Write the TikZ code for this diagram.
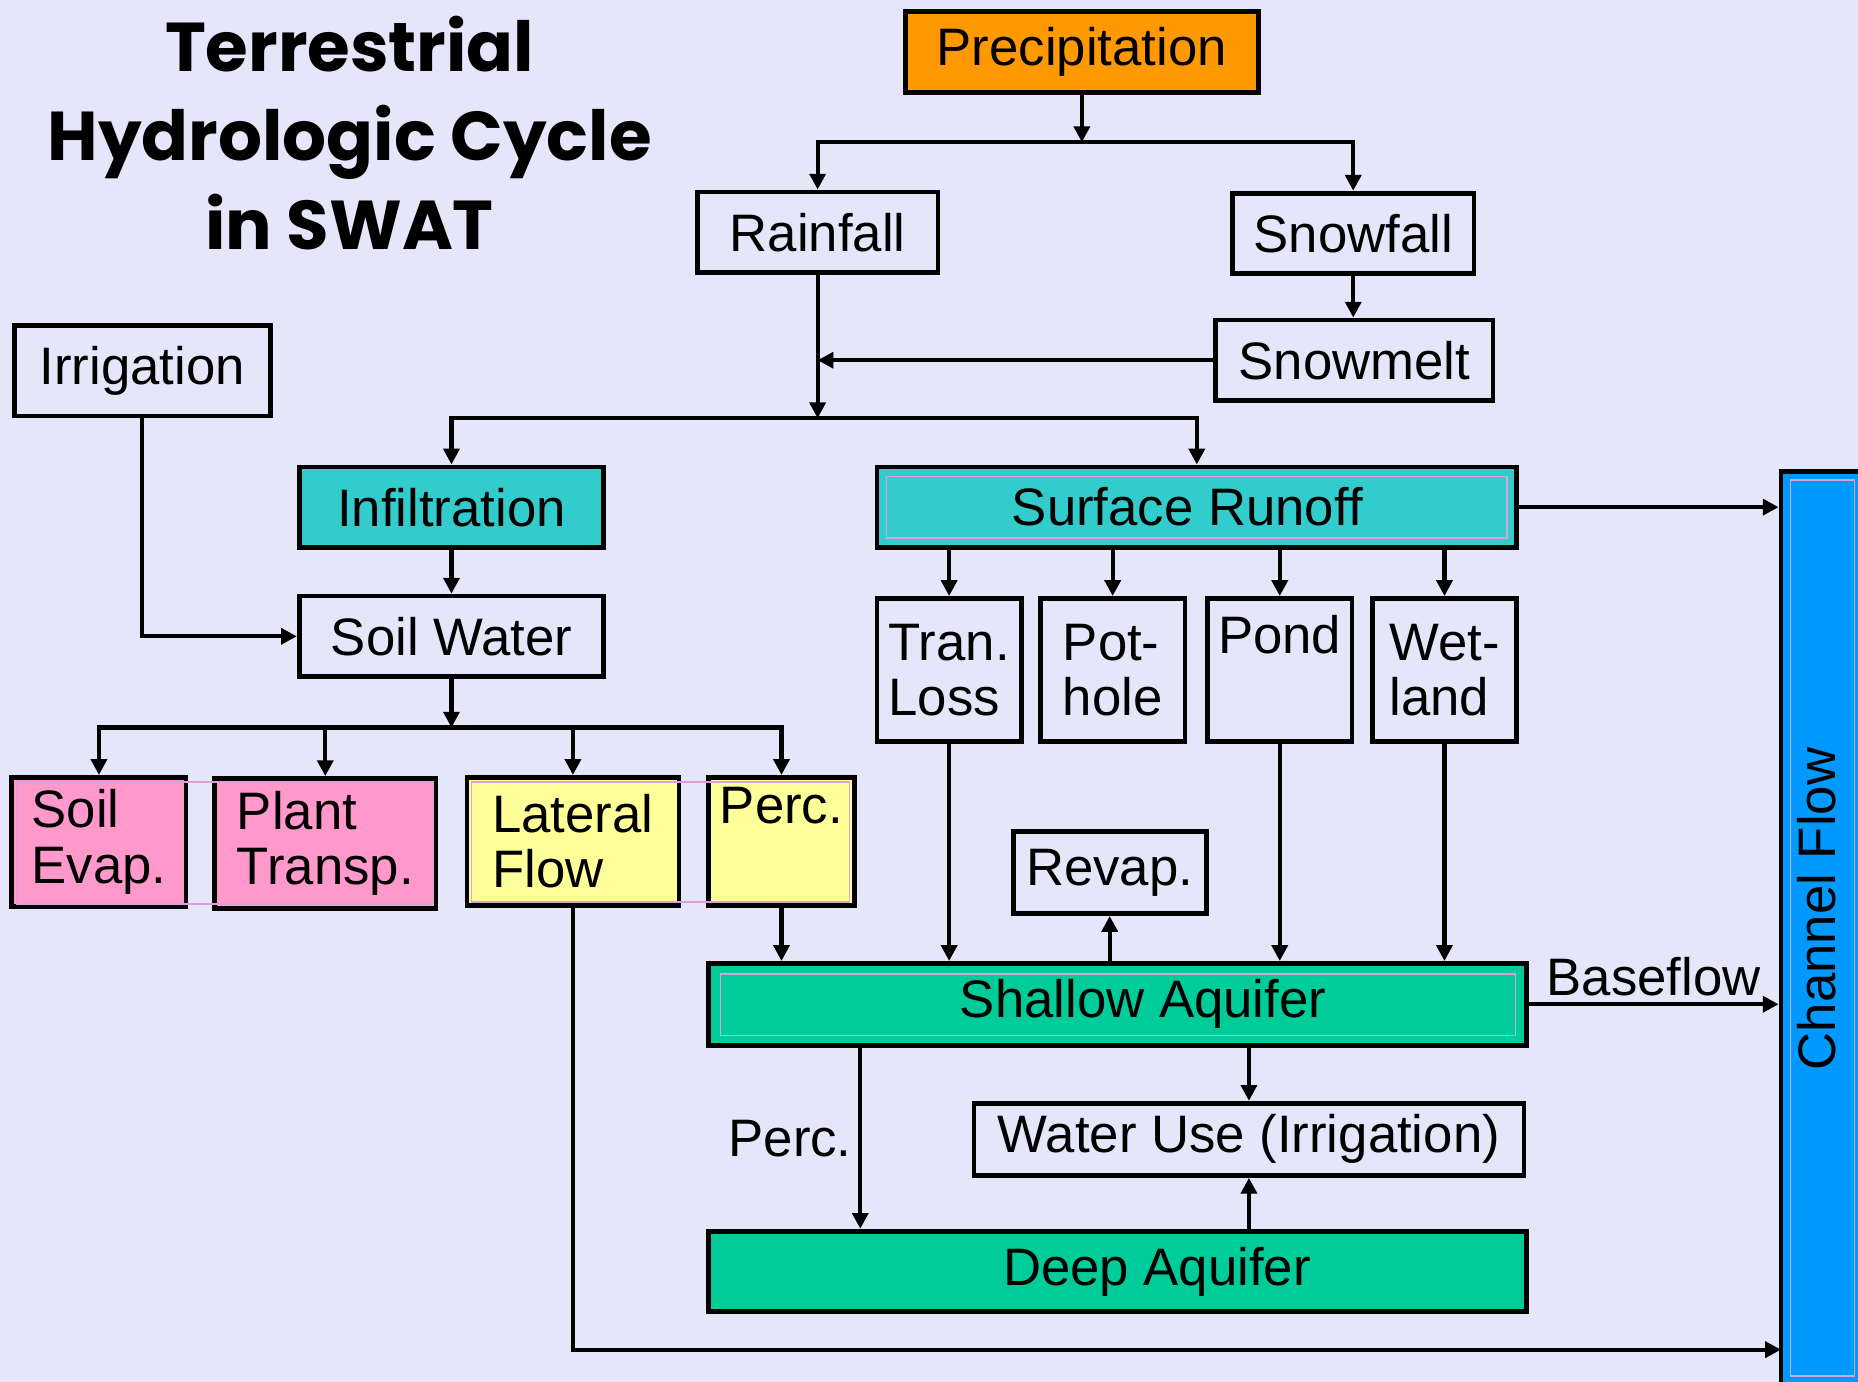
\documentclass[tikz,border=0pt]{standalone}
\usepackage{fontspec}
\setmainfont{Liberation Sans}
\newfontfamily\titlefont{Poppins}
\usetikzlibrary{arrows.meta,positioning}

\definecolor{bgcol}{RGB}{230,230,250}
\definecolor{precipcol}{RGB}{255,153,0}
\definecolor{tealcol}{RGB}{51,204,204}
\definecolor{pinkcol}{RGB}{255,153,204}
\definecolor{yellowcol}{RGB}{255,255,153}
\definecolor{aquacol}{RGB}{0,204,153}
\definecolor{chancol}{RGB}{0,153,255}
\definecolor{rimcol}{RGB}{221,160,221}

\tikzset{
  lbl/.style={font=\fontsize{26.7pt}{28pt}\selectfont},
  box/.style={draw=black, line width=2.4pt, fill=bgcol, inner sep=0pt, lbl},
  sz/.style 2 args={minimum width=#1*0.6pt, minimum height=#2*0.6pt},
  flow/.style={line width=2.1pt, -{Triangle[length=8pt,width=8pt]}},
  rim/.style={draw=rimcol, line width=0.8pt},
}

\begin{document}
\begin{tikzpicture}[x=0.6pt,y=-0.6pt]
\useasboundingbox (0,0) rectangle (1568,1166);
\fill[bgcol] (0,0) rectangle (1568,1166);

% title
\node[font=\titlefont\bfseries\fontsize{35pt}{45pt}\selectfont, align=center, inner sep=0pt] (title) at (295,112) {Terrestrial\\Hydrologic Cycle\\in SWAT};

% top part
\node[box, fill=precipcol, sz={298}{68}] (precip) at (913,44) {Precipitation};
\node[box, sz={203}{68}] (rain) at (690,196) {Rainfall};
\node[box, sz={204}{68}] (snowfall) at (1142,197) {Snowfall};
\node[box, sz={234}{68}] (snowmelt) at (1143,304) {Snowmelt};
\node[box, sz={216}{76}] (irrig) at (120,313) {Irrigation};

% soil and runoff
\node[box, fill=tealcol, sz={257}{68}] (infil) at (381,428) {Infiltration};
\node[box, fill=tealcol, sz={540}{68}, label={[lbl,xshift=-4.8pt]center:Surface Runoff}] (runoff) at (1010,428) {};
\node[box, sz={257}{68}] (soilwater) at (381,537) {Soil Water};
\node[box, sz={122}{121}, align=left] (tranloss) at (801,565.5) {Tran.\\Loss};
\node[box, sz={122}{121}, align=left] (pothole) at (939,565.5) {Pot-\\hole};
\node[box, sz={122}{121}, align=left] (pond) at (1080,565.5) {Pond\\\strut};
\node[box, sz={122}{121}, align=left] (wetland) at (1219,565.5) {Wet-\\land};
\node[box, fill=pinkcol, sz={147}{109}, align=left] (soilevap) at (83.5,710.5) {Soil\\Evap.};
\node[box, fill=pinkcol, sz={187}{110}, align=left] (plant) at (274.5,712) {Plant\\Transp.};
\node[box, fill=yellowcol, sz={179}{108}, align=left] (lateral) at (483.5,710) {Lateral\\Flow};
\node[box, fill=yellowcol, sz={123}{108}, align=left] (perc) at (659.5,710) {Perc.\\\strut};
\draw[rim] (14,660) rectangle (365,763);
\draw[rim] (398,660) rectangle (717,761);
\draw[rim] (748,402) rectangle (1272,454);

% groundwater
\node[box, sz={163}{69}] (revap) at (936.5,736.5) {Revap.};
\node[box, fill=aquacol, sz={690}{69}, label={[lbl,xshift=13pt]center:Shallow Aquifer}] (shallow) at (943,847.5) {};
\node[box, sz={464}{61}] (wateruse) at (1054,961.5) {Water Use (Irrigation)};
\node[box, fill=aquacol, sz={690}{68}, label={[lbl,xshift=20pt]center:Deep Aquifer}] (deep) at (943,1073) {};
\draw[rim] (608,822) rectangle (1279,874);

% channel
\node[box, fill=chancol, sz={72}{772}] (channel) at (1539,784) {};
\draw[rim] (1511,405) rectangle (1565,1161);
\node[lbl, rotate=90] (chantext) at (1533,767) {Channel Flow};

% junctions
\coordinate (split1) at (913,120);
\coordinate (split2) at (rain.south |- 0,353);
\coordinate (split3) at (soilwater.south |- 0,614);
\coordinate (lfend) at (1503,1139);
\coordinate (percx) at (726,0);

% connectors
\draw[flow] (precip) -- (split1);
\draw[flow] (split1) -| (rain);
\draw[flow] (split1) -| (snowfall);
\draw[flow] (snowfall.south) -- (snowfall.south |- snowmelt.north);
\draw[flow] (snowmelt) -- (snowmelt -| rain);
\draw[flow] (rain) -- (split2);
\draw[flow] (split2) -| (infil);
\draw[flow] (split2) -| (runoff);
\draw[flow] (infil) -- (soilwater);
\draw[flow] (irrig) |- (soilwater);
\draw[flow] (soilwater) -- (split3);
\foreach \n in {soilevap,plant,lateral,perc}
  \draw[flow] (split3) -| (\n);
\draw[flow] (runoff) -- (runoff -| channel.west);
\foreach \n in {tranloss,pothole,pond,wetland}
  \draw[flow] (runoff.south -| \n) -- (\n);
\foreach \n in {tranloss,pond,wetland}
  \draw[flow] (\n) -- (\n |- shallow.north);
\draw[flow] (perc) -- (perc |- shallow.north);
\draw[flow] (shallow.north -| revap) -- (revap);
\draw[flow] (lateral) |- (lfend);
\draw[flow] (shallow) -- (shallow -| channel.west) node[midway, above, lbl] {Baseflow};
\draw[flow] (shallow.south -| percx) -- (deep.north -| percx) node[midway, left, lbl] {Perc.};
\draw[flow] (shallow.south -| wateruse) -- (wateruse);
\draw[flow] (deep.north -| wateruse) -- (wateruse);

\end{tikzpicture}
\end{document}
